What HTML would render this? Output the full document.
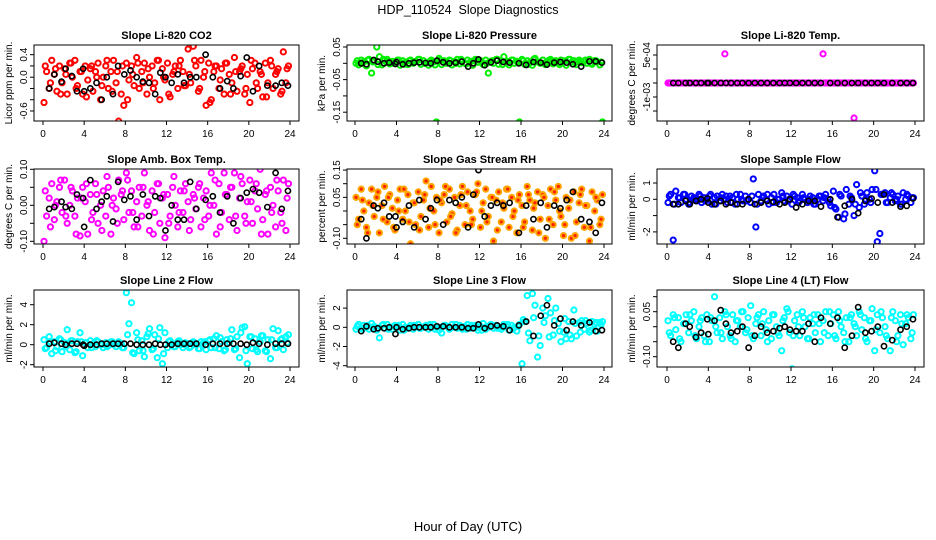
<!DOCTYPE html>
<html><head><meta charset="utf-8"><style>
body{margin:0;background:#fff;}
svg{display:block;font-family:"Liberation Sans",sans-serif;}
</style></head><body>
<svg id="chart" width="936" height="540" viewBox="0 0 936 540">
<text x="468" y="14" text-anchor="middle" font-size="12.5">HDP_110524&#160; Slope Diagnostics</text>
<text x="468" y="531" text-anchor="middle" font-size="13">Hour of Day (UTC)</text>
<g id="panels"></g>
</svg>
<script>
const hours=[0.1,0.35,0.6,0.85,1.1,1.35,1.6,1.85,2.1,2.35,2.6,2.85,3.1,3.35,3.6,3.85,4.1,4.35,4.6,4.85,5.1,5.35,5.6,5.85,6.1,6.35,6.6,6.85,7.1,7.35,7.6,7.85,8.1,8.35,8.6,8.85,9.1,9.35,9.6,9.85,10.1,10.35,10.6,10.85,11.1,11.35,11.6,11.85,12.1,12.35,12.6,12.85,13.1,13.35,13.6,13.85,14.1,14.35,14.6,14.85,15.1,15.35,15.6,15.85,16.1,16.35,16.6,16.85,17.1,17.35,17.6,17.85,18.1,18.35,18.6,18.85,19.1,19.35,19.6,19.85,20.1,20.35,20.6,20.85,21.1,21.35,21.6,21.85,22.1,22.35,22.6,22.85,23.1,23.35,23.6,23.85];
const hours2=[0.22,0.72,1.22,1.72,2.22,2.72,3.22,3.72,4.22,4.72,5.22,5.72,6.22,6.72,7.22,7.72,8.22,8.72,9.22,9.72,10.22,10.72,11.22,11.72,12.22,12.72,13.22,13.72,14.22,14.72,15.22,15.72,16.22,16.72,17.22,17.72,18.22,18.72,19.22,19.72,20.22,20.72,21.22,21.72,22.22,22.72,23.22,23.72];
const blackHours=[0.6,1.1,1.8,2.2,2.8,3.3,3.9,4.0,4.6,5.2,5.7,6.2,6.8,7.3,7.9,8.5,9.1,9.7,10.3,10.9,11.4,11.9,12.5,13.1,13.7,14.3,14.9,15.8,16.5,17.2,17.9,18.5,19.2,19.8,20.4,21.0,21.8,22.6,23.2,23.8];
const xTicks=[0,4,8,12,16,20,24];

const co2=[-0.45,0.1,-0.2,0.3,0.05,-0.25,0.2,-0.1,0.15,-0.3,0.25,0.0,0.3,-0.15,0.1,-0.3,0.2,-0.05,0.15,-0.25,0.1,0.25,-0.4,0.0,0.2,-0.2,0.1,0.3,-0.1,-0.78,-0.3,-0.5,0.25,-0.05,0.2,-0.15,0.35,-0.2,0.1,0.25,-0.3,0.0,0.2,-0.1,0.3,-0.4,0.15,-0.05,0.25,-0.35,0.05,0.2,-0.2,0.3,0.1,-0.15,0.5,-0.1,0.55,0.2,-0.25,0.3,0.0,-0.5,0.25,-0.4,0.1,0.2,-0.2,0.15,-0.3,0.25,0.05,-0.1,0.35,-0.25,0.1,0.2,-0.3,0.05,-0.45,0.15,0.25,-0.2,0.1,-0.35,0.25,-0.1,0.3,-0.2,0.05,0.15,-0.3,0.45,-0.1,0.2];
const co2B=[0.2,-0.1,0.15,-0.3,0.05,0.25,-0.2,0.1,-0.35,0.2,0.0,-0.15,0.3,-0.25,0.1,0.2,-0.4,0.05,0.25,-0.1,0.15,-0.2,0.3,0.0,-0.3,0.1,0.2,-0.15,0.05,0.3,-0.2,0.1,-0.45,0.2,-0.05,0.25,-0.3,0.1,0.15,-0.2,0.3,-0.1,0.05,-0.35,0.2,0.1,-0.25,0.15];
const co2Black=[-0.2,0.05,-0.08,0.15,0.02,-0.25,0.15,-0.25,-0.2,-0.1,-0.4,0.0,-0.3,0.2,0.05,0.12,0.0,-0.08,-0.1,-0.3,0.08,0.0,-0.1,0.05,-0.1,0.0,0.0,0.4,0.0,-0.2,-0.07,-0.2,0.02,0.35,-0.25,0.2,-0.15,-0.15,-0.1,-0.15];
const pressure=[0.0,-0.005,0.01,0.005,-0.008,0.012,-0.03,0.008,0.05,0.02,-0.005,0.01,0.012,-0.002,0.006,0.0,0.01,-0.006,0.008,0.003,-0.004,0.01,0.0,0.006,0.012,-0.003,0.008,0.002,-0.006,0.01,0.004,-0.18,0.015,-0.004,0.008,0.0,0.01,-0.005,0.006,0.012,-0.002,0.008,0.0,0.01,0.004,-0.006,0.012,0.003,0.008,-0.004,0.01,-0.03,0.006,0.0,0.012,-0.003,0.008,0.02,0.004,-0.005,0.01,0.0,0.006,-0.18,0.012,-0.003,0.008,0.002,-0.006,0.015,0.004,0.0,0.01,-0.004,0.006,0.012,-0.002,0.008,0.0,0.01,0.004,-0.006,0.012,0.003,0.008,-0.004,0.01,0.002,0.006,0.0,0.012,-0.003,0.008,0.004,-0.005,-0.18];
const pressureB=[0.008,0.0,0.01,0.004,-0.004,0.012,0.006,0.0,0.01,-0.003,0.008,0.004,0.012,0.0,0.006,-0.005,0.01,0.004,0.008,0.0,0.012,-0.002,0.006,0.01,0.004,0.0,0.008,0.012,-0.004,0.006,0.01,0.002,0.008,-0.003,0.012,0.004,0.0,0.01,0.006,-0.004,0.008,0.012,0.002,0.006,0.01,0.0,0.008,0.004];
const pressureBlack=[0.0,-0.003,0.01,0.005,0.0,0.002,-0.002,0.004,-0.003,0.0,0.002,0.003,0.001,0.0,0.008,0.003,0.0,0.002,0.005,-0.01,0.0,0.012,-0.006,0.003,0.008,0.004,0.002,0.0,-0.005,0.004,0.002,-0.004,0.002,0.004,0.002,-0.003,-0.01,0.006,0.006,0.002];
const temp=[0,0,0,0,0,0,0,0,0,0,0,0,0,0,0,0,0,0,0,0,0,0,0.00104,0,0,0,0,0,0,0,0,0,0,0,0,0,0,0,0,0,0,0,0,0,0,0,0,0,0,0,0,0,0,0,0,0,0,0,0,0,0.00104,0,0,0,0,0,0,0,0,0,0,0,-0.00125,0,0,0,0,0,0,0,0,0,0,0,0,0,0,0,0,0,0,0,0,0,0,0];
const tempB=[0,0,0,0,0,0,0,0,0,0,0,0,0,0,0,0,0,0,0,0,0,0,0,0,0,0,0,0,0,0,0,0,0,0,0,0,0,0,0,0,0,0,0,0,0,0,0,0];
const tempBlack=[0,0,0,0,0,0,0,0,0,0,0,0,0,0,0,0,0,0,0,0,0,0,0,0,0,0,0,0,0,0,0,0,0,0,0,0,0,0,0,0];
const boxTemp=[-0.1,-0.03,0.02,0.06,-0.04,0.01,0.05,-0.02,0.07,-0.05,0.0,0.04,-0.03,0.02,-0.085,0.05,0.01,-0.08,0.03,-0.02,0.06,-0.05,0.0,0.04,-0.03,0.05,-0.08,0.02,-0.01,0.07,0.03,-0.04,0.09,-0.02,0.04,-0.06,0.01,0.05,-0.03,0.09,0.0,-0.07,0.04,-0.02,0.06,-0.05,0.02,-0.09,0.03,-0.03,0.05,0.0,-0.06,0.04,-0.02,0.06,0.01,-0.04,0.03,-0.01,0.05,-0.06,0.02,0.04,-0.03,0.09,0.0,-0.08,0.06,-0.02,0.09,0.03,-0.04,0.05,0.09,-0.07,0.02,0.06,-0.03,0.01,0.07,-0.05,0.04,-0.01,0.1,-0.04,0.03,-0.08,0.05,0.0,-0.06,0.04,-0.02,0.07,-0.07,0.06];
const boxTempB=[0.04,-0.06,0.0,0.07,-0.03,0.05,-0.08,0.02,0.06,-0.04,0.03,-0.07,0.08,0.0,-0.05,0.04,0.07,-0.02,-0.06,0.05,0.01,-0.08,0.06,0.03,-0.05,0.08,-0.02,0.04,-0.07,0.02,0.06,-0.04,0.0,0.07,-0.06,0.03,0.05,-0.03,0.08,-0.05,0.01,0.06,-0.08,0.04,-0.02,0.07,-0.05,0.02];
const boxTempBlack=[-0.01,-0.005,0.01,-0.005,-0.01,0.03,0.02,-0.06,0.07,-0.01,0.01,0.025,-0.045,0.065,0.015,0.025,-0.04,0.03,-0.03,0.025,0.02,-0.07,0.0,-0.04,-0.04,0.065,-0.01,0.015,0.025,-0.02,0.025,-0.05,0.02,0.035,0.045,0.035,-0.005,0.09,-0.01,0.04];
const rh=[0.05,-0.03,0.08,0.0,-0.06,0.03,0.08,-0.02,0.05,-0.08,0.02,0.09,-0.04,0.06,0.01,-0.07,0.04,0.08,-0.03,0.0,0.06,-0.12,0.03,-0.05,0.07,-0.02,0.04,0.11,-0.06,0.09,0.0,0.05,-0.08,0.03,0.06,-0.04,0.08,-0.01,0.05,-0.07,0.02,0.09,-0.05,0.07,0.0,-0.03,0.06,0.1,-0.06,0.03,0.08,-0.02,0.05,-0.11,0.04,0.07,-0.04,0.01,0.08,-0.06,0.05,0.0,-0.08,0.06,0.02,-0.04,0.09,0.04,-0.07,0.03,0.07,-0.03,0.06,-0.1,0.02,0.08,-0.05,0.04,0.09,-0.02,-0.09,0.05,0.01,-0.1,0.07,-0.04,0.03,0.08,-0.06,0.02,-0.11,0.07,0.0,0.04,-0.05,0.06];
const rhB=[-0.05,0.04,-0.08,0.02,0.07,-0.03,0.05,-0.06,0.0,0.08,-0.04,0.03,-0.07,0.06,0.01,-0.05,0.04,0.09,-0.02,-0.08,0.06,0.02,-0.05,0.07,0.0,-0.04,0.05,-0.07,0.03,0.08,-0.02,0.04,-0.06,0.06,0.01,-0.08,0.05,-0.03,0.07,0.0,-0.05,0.04,-0.09,0.06,0.02,-0.06,0.05,-0.03];
const rhBlack=[-0.03,-0.1,0.02,0.01,0.03,-0.02,-0.02,-0.06,-0.04,0.02,-0.06,0.04,-0.03,0.01,0.04,-0.05,0.04,0.03,0.05,-0.06,0.06,0.15,-0.02,0.02,0.03,0.02,0.03,-0.08,0.02,-0.03,0.03,-0.06,0.02,0.01,0.04,0.07,-0.03,-0.04,-0.08,0.03];
const sampleFlow=[-0.2,0.3,-2.5,0.5,0.1,-0.2,0.3,0.0,-0.3,0.2,0.1,-0.1,0.3,-0.2,0.1,0.0,0.2,-0.3,0.1,0.2,-0.1,0.3,0.0,-0.2,0.2,0.1,-0.3,0.0,0.3,-0.1,0.2,0.0,-0.2,1.25,-1.7,0.3,-0.1,0.2,0.0,-0.3,0.1,0.3,-0.2,0.0,0.4,-0.1,0.2,0.0,-0.3,0.2,0.1,-0.1,0.3,0.0,-0.2,0.2,0.1,-0.3,0.0,0.2,-0.1,0.3,0.0,-0.4,0.5,-0.6,-1.1,0.2,-1.2,0.6,-0.3,0.1,-1.0,0.9,-0.5,0.2,-0.3,0.4,0.0,0.6,1.75,-2.6,-2.1,0.3,0.4,-0.2,0.1,0.3,-0.1,0.2,-0.3,0.4,0.0,0.2,-0.2,0.1];
const sampleFlowB=[0.2,-0.3,0.1,0.3,-0.2,0.0,0.2,-0.1,0.3,-0.3,0.1,0.2,-0.2,0.3,0.0,-0.1,0.2,-0.3,0.1,0.3,-0.2,0.0,0.2,-0.1,0.3,-0.2,0.1,0.0,-0.3,0.2,0.1,-0.2,-0.5,0.3,-0.9,0.2,-0.3,0.4,0.0,-0.2,0.6,0.3,-0.2,0.4,0.0,-0.3,0.3,0.1];
const sampleFlowBlack=[-0.3,-0.3,-0.1,-0.3,-0.1,0.0,0.05,-0.2,-0.3,-0.1,-0.3,-0.2,-0.3,-0.3,0.0,-0.3,-0.2,-0.1,-0.15,-0.3,-0.2,0.0,-0.5,-0.3,-0.1,-0.1,-0.45,0.0,-1.1,-0.4,0.0,-0.85,-0.1,0.05,-0.2,0.3,-0.2,-0.45,-0.4,0.05];
const line2=[0.5,-0.3,0.8,-0.9,0.3,-0.2,0.6,-0.7,0.2,1.5,-0.5,0.4,-0.8,0.3,1.2,-1.1,0.2,-0.3,0.4,0.1,-0.2,0.3,0.0,-0.3,0.2,-0.1,0.3,0.0,-0.2,0.3,0.1,-0.3,5.2,2.1,4.2,-0.9,1.2,-0.6,0.4,-1.2,0.8,1.6,-0.5,1.0,-1.3,1.7,-1.9,1.2,-0.3,0.4,0.1,-0.2,0.3,0.0,-0.3,0.2,0.1,-0.2,0.3,0.0,-0.4,0.3,0.2,-0.5,0.4,-0.3,0.6,0.9,-0.4,0.3,-0.6,0.5,0.2,1.5,-0.5,0.8,-1.3,1.7,1.8,-1.9,0.8,-0.4,0.6,-0.7,0.3,0.9,-0.6,0.5,-1.4,1.6,-0.3,1.4,0.5,-0.5,0.8,1.0];
const line2B=[-0.4,0.3,-0.6,0.5,-0.2,0.4,-0.7,0.3,0.2,-0.3,0.4,0.0,-0.2,0.3,0.1,-0.3,1.0,-0.8,0.5,-0.6,1.1,-0.4,0.6,-0.9,0.3,-0.2,0.4,0.0,-0.3,0.2,-0.4,0.3,0.5,-0.3,0.7,-0.5,0.6,-0.4,1.2,-0.6,0.8,-0.5,0.9,-0.7,0.5,-0.3,0.6,0.2];
const line2Black=[0.1,0.2,0.1,0.0,0.1,0.1,0.0,-0.1,0.0,0.0,0.1,0.1,0.1,0.1,0.1,0.1,0.0,0.0,0.0,0.1,0.0,0.0,0.0,0.1,0.1,0.1,0.1,0.0,0.1,0.1,0.1,0.1,0.1,0.0,0.2,0.1,0.0,0.1,0.1,0.1];
const line3=[-0.2,0.3,-0.1,0.2,0.0,-0.2,0.4,0.1,-0.3,-1.1,0.2,-0.1,0.3,0.0,-0.2,0.2,0.1,-0.3,0.3,0.0,-0.1,0.2,-0.2,0.1,0.3,-0.1,0.0,0.2,-0.2,0.1,0.3,0.0,-0.3,-0.6,0.2,0.1,-0.2,0.3,0.0,-0.1,0.2,-0.2,0.1,0.3,-0.1,0.0,0.2,-0.3,0.1,0.4,-0.2,0.0,0.3,-0.1,0.2,0.0,-0.2,0.3,0.1,-0.3,0.2,0.0,-0.4,0.3,-3.8,0.6,3.3,-1.4,3.5,2.3,-3.1,-1.9,2.0,1.2,3.0,1.5,-0.8,2.0,0.4,-1.5,-0.5,-1.2,0.6,-1.2,1.8,-0.9,0.5,0.7,-0.2,0.4,-0.5,0.6,0.3,-0.4,0.5,0.6];
const line3B=[0.1,-0.2,0.2,0.0,-0.1,0.3,-0.2,0.1,0.2,-0.3,0.0,0.2,-0.1,0.1,0.3,-0.2,0.0,0.2,-0.1,0.3,0.1,-0.2,0.2,0.0,-0.3,0.1,0.2,-0.1,0.0,0.3,-0.2,0.1,0.8,-0.6,1.0,-0.9,0.5,-1.0,0.7,-0.4,0.9,-0.8,0.4,-0.5,0.7,-0.3,0.5,0.3];
const line3Black=[-0.4,0.1,-0.2,-0.1,-0.1,0.0,-0.7,0.0,-0.2,-0.1,0.0,0.0,0.0,0.0,0.1,0.1,0.0,0.0,0.0,-0.1,-0.1,0.3,-0.1,0.1,0.2,0.1,-0.3,0.2,0.6,-0.9,1.2,2.3,0.2,0.9,-0.3,0.6,0.2,0.5,-0.4,-0.3];
const line4=[0.02,-0.03,0.04,-0.01,0.03,-0.05,0.01,0.04,-0.02,0.02,0.05,-0.04,0.0,0.03,-0.03,0.04,-0.05,0.02,0.1,-0.02,0.03,-0.04,0.05,0.0,-0.03,0.04,-0.05,0.02,0.0,0.05,-0.02,0.03,0.07,-0.04,0.01,0.04,-0.03,0.05,-0.01,0.02,-0.04,0.04,0.0,-0.03,-0.08,0.03,0.06,-0.02,-0.14,0.02,0.04,-0.03,0.05,0.0,-0.04,0.03,0.01,-0.02,0.04,-0.05,0.02,0.05,-0.03,0.01,0.04,-0.04,0.05,0.0,-0.02,0.03,-0.05,0.04,0.01,-0.03,0.05,-0.01,0.03,-0.05,0.02,0.06,-0.08,0.04,-0.02,0.03,0.0,-0.04,-0.08,0.05,0.02,-0.03,0.04,-0.06,0.01,0.03,-0.04,0.04];
const line4B=[-0.02,0.03,-0.04,0.01,0.04,-0.03,0.02,-0.05,0.03,0.0,-0.02,0.04,-0.04,0.02,0.05,-0.01,-0.03,0.03,0.01,-0.05,0.04,-0.02,0.02,0.05,-0.03,0.0,0.03,-0.04,0.04,0.01,-0.02,0.05,-0.03,0.02,-0.05,0.03,0.0,0.04,-0.04,0.02,-0.01,0.05,-0.03,0.03,-0.05,0.01,0.04,-0.02];
const line4Black=[-0.05,-0.07,0.01,0.0,-0.035,-0.02,0.025,-0.025,0.02,0.055,0.01,-0.02,-0.015,0.0,-0.07,-0.03,0.0,-0.02,-0.015,-0.005,0.0,-0.01,-0.015,-0.015,0.01,-0.05,0.03,0.01,0.03,-0.07,-0.03,0.065,-0.02,-0.015,0.0,-0.065,-0.045,-0.01,0.0,0.025];

const co2Ticks=[-0.6,-0.4,-0.2,0,0.2,0.4], co2Labels=["-0.6","","","0.0","","0.4"];
const pressTicks=[-0.15,-0.1,-0.05,0,0.05], pressLabels=["-0.15","","-0.05","","0.05"];
const tempTicks=[-0.001,-0.0005,0,0.0005,0.001], tempLabels=["","-1e-03","","","5e-04"];
const boxTicks=[-0.1,-0.05,0,0.05,0.1], boxLabels=["-0.10","","0.00","","0.10"];
const rhTicks=[-0.1,-0.05,0,0.05,0.1,0.15], rhLabels=["-0.10","","","0.05","","0.15"];
const sfTicks=[-2,-1,0,1], sfLabels=["-2","","0","1"];
const l2Ticks=[-2,0,2,4], l2Labels=["-2","0","2","4"];
const l3Ticks=[-4,-2,0,2], l3Labels=["-4","-2","0","2"];
const l4Ticks=[-0.1,-0.05,0,0.05,0.1], l4Labels=["-0.10","","","0.05",""];

const cols=[[34,299,43,290],[347,612,355,604],[657,924,667,915]];
const rows=[[45,121],[169,244],[290,367]];
const panels=[
 {name:"co2",title:"Slope Li-820 CO2",ylab:"Licor ppm per min.",c:0,r:0,y0:77.2,k:56.3,col:"#ff0000",v:co2,v2:co2B,b:co2Black,t:co2Ticks,tl:co2Labels},
 {name:"pressure",title:"Slope Li-820 Pressure",ylab:"kPa per min.",c:1,r:0,y0:63.3,k:326,col:"#00ee00",v:pressure,v2:pressureB,b:pressureBlack,t:pressTicks,tl:pressLabels},
 {name:"temp",title:"Slope Li-820 Temp.",ylab:"degrees C per min.",c:2,r:0,y0:83,k:28000,col:"#ff00ff",v:temp,v2:tempB,b:tempBlack,t:tempTicks,tl:tempLabels},
 {name:"box-temp",title:"Slope Amb. Box Temp.",ylab:"degrees C per min.",c:0,r:1,y0:205.3,k:360,col:"#ff00ff",v:boxTemp,v2:boxTempB,b:boxTempBlack,t:boxTicks,tl:boxLabels},
 {name:"rh",title:"Slope Gas Stream RH",ylab:"percent per min.",c:1,r:1,y0:211,k:273,col:"#ffa500",v:rh,v2:rhB,b:rhBlack,t:rhTicks,tl:rhLabels,inner:"#ff2000"},
 {name:"sample-flow",title:"Slope Sample Flow",ylab:"ml/min per min.",c:2,r:1,y0:199.3,k:16.3,col:"#0000ff",v:sampleFlow,v2:sampleFlowB,b:sampleFlowBlack,t:sfTicks,tl:sfLabels},
 {name:"line2-flow",title:"Slope Line 2 Flow",ylab:"ml/min per min.",c:0,r:2,y0:344.7,k:10,col:"#00ffff",v:line2,v2:line2B,b:line2Black,t:l2Ticks,tl:l2Labels},
 {name:"line3-flow",title:"Slope Line 3 Flow",ylab:"ml/min per min.",c:1,r:2,y0:327.3,k:9.6,col:"#00ffff",v:line3,v2:line3B,b:line3Black,t:l3Ticks,tl:l3Labels},
 {name:"line4-flow",title:"Slope Line 4 (LT) Flow",ylab:"ml/min per min.",c:2,r:2,y0:326.7,k:300,col:"#00ffff",v:line4,v2:line4B,b:line4Black,t:l4Ticks,tl:l4Labels}
];
const NS="http://www.w3.org/2000/svg";
const root=document.getElementById('panels');
function mk(tag,attrs,parent){const e=document.createElementNS(NS,tag);for(const k in attrs)e.setAttribute(k,attrs[k]);parent.appendChild(e);return e;}
panels.forEach((p,pi)=>{
 const [L,R,x0,x24]=cols[p.c];const [T,B]=rows[p.r];
 const xs=h=>x0+(x24-x0)*h/24;
 const ys=v=>p.y0-v*p.k;
 const g=mk('g',{},root);
 
 
 const clip=mk('clipPath',{id:'clip'+pi},g);
 mk('rect',{x:L,y:T,width:R-L,height:B-T},clip);
 const tt=mk('text',{x:(L+R)/2,y:T-6,'text-anchor':'middle','font-size':'11','font-weight':'bold'},g);
 tt.textContent=p.title;
 
 
 const pts=mk('g',{'clip-path':'url(#clip'+pi+')'},g);
 
 
 const n=Math.min(hours.length,p.v.length);
 for(let i=0;i<n;i++){
  const c=mk('circle',{cx:xs(hours[i]),cy:ys(p.v[i]),r:2.6,fill:p.inner||'none',stroke:p.col,'stroke-width':2},pts);
  
  
 }
 const n2=Math.min(hours2.length,p.v2.length);
 for(let i=0;i<n2;i++){
  const c=mk('circle',{cx:xs(hours2[i]),cy:ys(p.v2[i]),r:2.6,fill:p.inner||'none',stroke:p.col,'stroke-width':2},pts);
  
  
 }
 const nb=Math.min(blackHours.length,p.b.length);
 for(let i=0;i<nb;i++){
  const c=mk('circle',{cx:xs(blackHours[i]),cy:ys(p.b[i]),r:2.6,fill:'none',stroke:'#000','stroke-width':1.6},pts);
  
  
 }
 const box=mk('rect',{x:L,y:T,width:R-L,height:B-T,fill:'none',stroke:'#000','stroke-width':1},g);
 
 
 const xa=mk('g',{},g);
 
 
 mk('line',{x1:xs(0),x2:xs(24),y1:B,y2:B,stroke:'#000'},xa);
 xTicks.forEach(t=>{
  mk('line',{x1:xs(t),x2:xs(t),y1:B,y2:B+4,stroke:'#000'},xa);
  const l=mk('text',{x:xs(t),y:B+16,'text-anchor':'middle','font-size':'10'},xa);
  l.textContent=t;
 });
 const ya=mk('g',{},g);
 
 
 const yt=p.t.map(ys);
 mk('line',{x1:L,x2:L,y1:Math.min(...yt),y2:Math.max(...yt),stroke:'#000'},ya);
 p.t.forEach((t,i)=>{
  const y=ys(t);
  mk('line',{x1:L-4,x2:L,y1:y,y2:y,stroke:'#000'},ya);
  if(p.tl[i]){
   const l=mk('text',{x:0,y:0,'text-anchor':'middle','font-size':'10',transform:`translate(${L-7},${y}) rotate(-90)`},ya);
   l.textContent=p.tl[i];
  }
 });
 const yl=mk('text',{x:0,y:0,'text-anchor':'middle','font-size':'10',transform:`translate(${L-22},${(T+B)/2}) rotate(-90)`},g);
 yl.textContent=p.ylab;
 
 
});
</script>
</body></html>
